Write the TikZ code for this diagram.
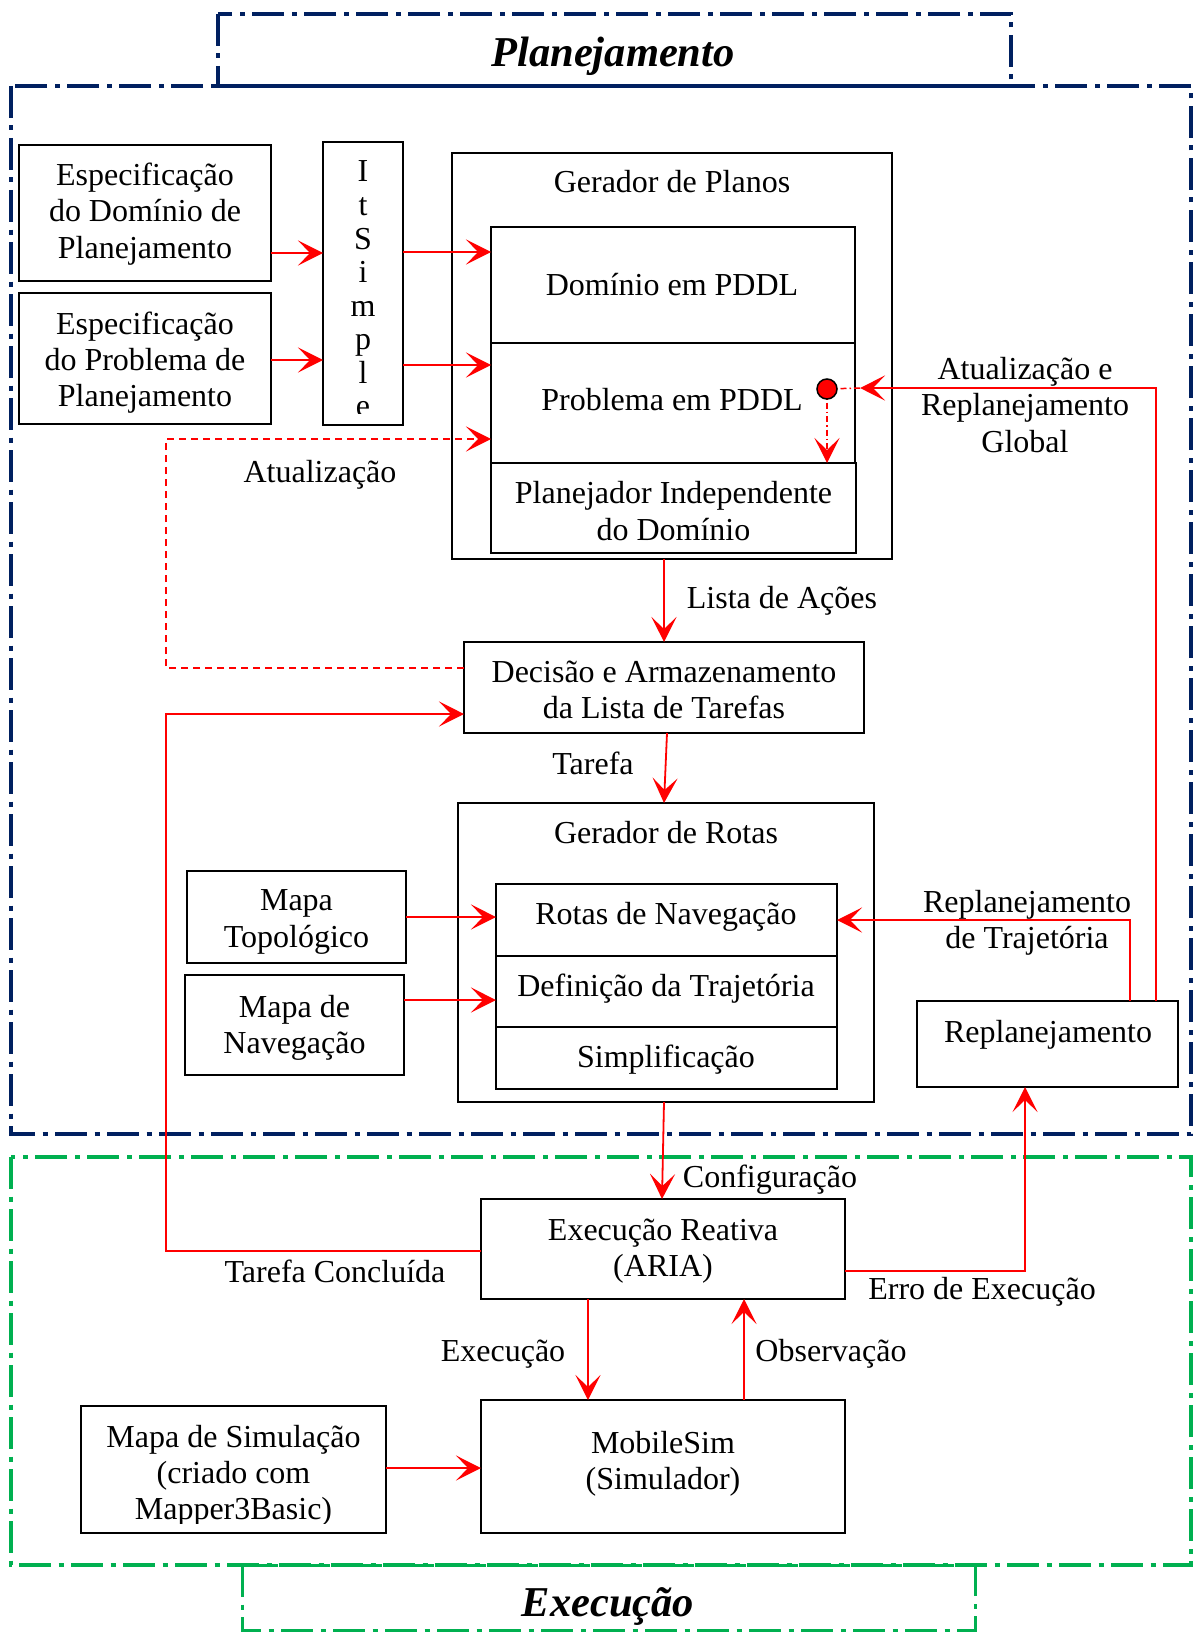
\documentclass[tikz,border=0pt]{standalone}
\usepackage{fontspec}
\setmainfont{Liberation Serif}
\usetikzlibrary{arrows.meta}
\definecolor{planblue}{HTML}{002060}
\definecolor{execgreen}{HTML}{00B050}
\definecolor{flowred}{HTML}{FF0000}

\begin{document}
\begin{tikzpicture}[x=1pt,y=-1pt,
  every node/.style={font=\fontsize{32}{36.2}\selectfont},
  box/.style={draw=black, line width=2pt, inner sep=0pt, outer sep=0pt, anchor=north west},
  lbl/.style={inner sep=0pt, text height=27pt, text depth=7pt},
  lblm/.style={inner sep=0pt, align=center},
  tip/.style={-{Stealth[length=25pt,width=25pt,inset=12pt]}},
  arr/.style={draw=flowred, line width=1.8pt, tip},
  dashedlink/.style={draw=flowred, line width=1.8pt, dash pattern=on 7pt off 5pt, tip},
  ddot/.style={draw=flowred, line width=1.5pt, dash pattern=on 6pt off 3pt on 1.5pt off 3pt},
  zone/.style={line width=4pt, dash pattern=on 32pt off 7.5pt on 5pt off 7.5pt},
  title/.style={font=\fontsize{42.5}{50}\selectfont\bfseries\itshape, inner sep=0pt}
]
\useasboundingbox (0,0) rectangle (1193,1632);

% ---------- zones ----------
\draw[zone,planblue] (11,86) rectangle (1191,1134);
\draw[zone,planblue,line width=3.5pt] (218,14) rectangle (1011,86);
\node[title,anchor=base] (plantitle) at (613,67) {Planejamento};

\draw[zone,execgreen] (11,1157) rectangle (1191,1565);
\draw[zone,execgreen,line width=3pt] (242,1565) rectangle (975,1630);
\node[title,anchor=base] (exectitle) at (608,1616) {Execução};

% ---------- planning blocks ----------
\node[box,minimum width=252pt,minimum height=136pt] (espdom) at (19,145) {};
\node[lblm,yshift=-1pt] (espdomtxt) at (espdom) {Especificação\\do Domínio de\\Planejamento};
\node[box,minimum width=252pt,minimum height=131pt] (espprob) at (19,293) {};
\node[lblm,yshift=-4pt] (espprobtxt) at (espprob) {Especificação\\do Problema de\\Planejamento};

\node[box,minimum width=80pt,minimum height=283pt] (itsimple) at (323,142) {};
\begin{scope}
  \clip (323,142) rectangle (403,413);
  \foreach \ch [count=\k] in {I,t,S,i,m,p,l,e}
    \node[anchor=base,inner sep=0pt] (its\k) at (363,148.5+33.5*\k) {\ch};
\end{scope}

\node[box,minimum width=440pt,minimum height=406pt] (gplanos) at (452,153) {};
\node[lbl] (lblgp) at (672,183) {Gerador de Planos};
\node[box,minimum width=364pt,minimum height=116pt] (dominio) at (491,227) {};
\node[lbl] (dominiotxt) at (672,285) {Domínio em PDDL};
\node[box,minimum width=364pt,minimum height=120pt] (problema) at (491,343) {};
\node[lbl] (problematxt) at (672,400) {Problema em PDDL};
\node[box,minimum width=365pt,minimum height=90pt] (planejador) at (491,463) {};
\node[lblm,yshift=-3pt] (planejadortxt) at (planejador) {Planejador Independente\\do Domínio};

\node[box,minimum width=400pt,minimum height=91pt] (decisao) at (464,642) {};
\node[lblm,yshift=-2.5pt] (decisaotxt) at (decisao) {Decisão e Armazenamento\\da Lista de Tarefas};

\node[box,minimum width=416pt,minimum height=299pt] (grotas) at (458,803) {};
\node[lbl] (lblgr) at (666,833) {Gerador de Rotas};
\node[box,minimum width=341pt,minimum height=72pt] (rotasnav) at (496,884) {};
\node[lbl] (rotasnavtxt) at (666,914) {Rotas de Navegação};
\node[box,minimum width=341pt,minimum height=71pt] (defin) at (496,956) {};
\node[lbl] (defintxt) at (666,986) {Definição da Trajetória};
\node[box,minimum width=341pt,minimum height=62pt] (simpl) at (496,1027) {};
\node[lbl] (simpltxt) at (666,1057) {Simplificação};

\node[box,minimum width=219pt,minimum height=92pt] (mapatopo) at (187,871) {};
\node[lblm,yshift=-5pt] (mapatopotxt) at (mapatopo) {Mapa\\Topológico};
\node[box,minimum width=219pt,minimum height=100pt] (mapanav) at (185,975) {};
\node[lblm,yshift=-3pt] (mapanavtxt) at (mapanav) {Mapa de\\Navegação};

\node[box,minimum width=261pt,minimum height=86pt] (replan) at (917,1001) {};
\node[lbl] (lblrep) at (1048,1032) {Replanejamento};

% ---------- execution blocks ----------
\node[box,minimum width=364pt,minimum height=100pt] (execr) at (481,1199) {};
\node[lblm,yshift=-2.5pt] (execrtxt) at (execr) {Execução Reativa\\(ARIA)};
\node[box,minimum width=364pt,minimum height=133pt] (mobsim) at (481,1400) {};
\node[lblm,yshift=3pt] (mobsimtxt) at (mobsim) {MobileSim\\(Simulador)};
\node[box,minimum width=305pt,minimum height=127pt] (mapasim) at (81,1406) {};
\begin{scope}
  \clip (81,1406) rectangle (386,1523);
  \node[lblm] (mapasimtxt) at (233.5,1475.5) {Mapa de Simulação\\(criado com\\Mapper3Basic)};
\end{scope}

% ---------- marker on the problem block ----------
\coordinate (gtip) at (860,388);
\draw[ddot] (827,389) -- (gtip);
\draw[ddot,tip] (827,389) -- (planejador.north -| 827,0);
\node[circle,draw=black,line width=1.5pt,fill=flowred,minimum size=20pt,inner sep=0pt]
  (flag) at (827,389) {};

% ---------- connectors ----------
\draw[arr] (espdom.east |- 0,253) -- (itsimple.west |- 0,253);
\draw[arr] (espprob.east |- 0,360) -- (itsimple.west |- 0,360);
\draw[arr] (itsimple.east |- 0,252) -- (dominio.west |- 0,252);
\draw[arr] (itsimple.east |- 0,365) -- (problema.west |- 0,365);

\draw[dashedlink] (decisao.west |- 0,668) -- (166,668) -- (166,439) -- (problema.west |- 0,439);

\draw[arr] (decisao.north |- gplanos.south) -- (decisao.north);
\draw[arr] ([xshift=3pt]decisao.south) -- ([xshift=-2pt]grotas.north);

\draw[arr] (mapatopo.east) -- (rotasnav.west |- mapatopo.east);
\draw[arr] (mapanav.east |- 0,1000) -- (defin.west |- 0,1000);

\draw[arr] (replan.north -| 1130,0) -- (1130,920) -- (rotasnav.east |- 0,920);
\draw[arr] (replan.north -| 1156,0) -- (1156,388) -- (gtip);

\draw[arr] ([xshift=-2pt]grotas.south) -- ([xshift=-1pt]execr.north);

\draw[arr] (execr.west |- 0,1251) -- (166,1251) -- (166,714) -- (decisao.west |- 0,714);
\draw[arr] (execr.east |- 0,1271) -- (1025,1271) -- (replan.south -| 1025,0);

\draw[arr] (execr.south -| 588,0) -- (mobsim.north -| 588,0);
\draw[arr] (mobsim.north -| 744,0) -- (execr.south -| 744,0);
\draw[arr] (mapasim.east |- 0,1468) -- (mobsim.west |- 0,1468);

% ---------- connector labels ----------
\node[lbl] (lblatual) at (320,472) {Atualização};
\node[lbl] (lbllista) at (782,598) {Lista de Ações};
\node[lbl] (lbltarefa) at (593,764) {Tarefa};
\node[lblm] (lblglobal) at (1025,405) {Atualização e\\Replanejamento\\Global};
\node[lblm] (lbltraj) at (1027,923) {Replanejamento\\de Trajetória};
\node[lbl] (lblconf) at (770,1177) {Configuração};
\node[lbl] (lblconc) at (335,1272) {Tarefa Concluída};
\node[lbl] (lblerro) at (982,1289) {Erro de Execução};
\node[lbl] (lblexec) at (503,1351) {Execução};
\node[lbl] (lblobs) at (831,1351) {Observação};
\end{tikzpicture}
\end{document}
